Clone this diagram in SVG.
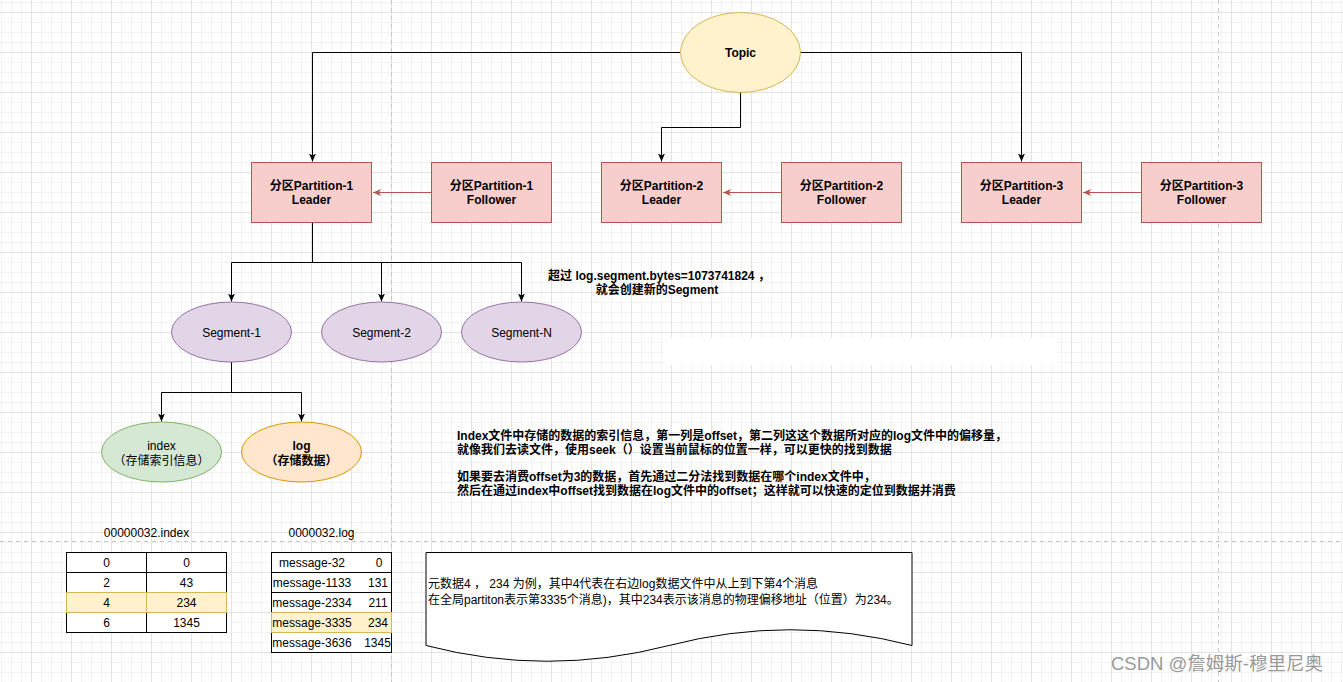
<svg xmlns="http://www.w3.org/2000/svg" width="1343" height="682" viewBox="0 0 1343 682">
<defs>
<pattern id="grid" x="31" y="12" width="40" height="40" patternUnits="userSpaceOnUse">
<path d="M10.5,0V40M20.5,0V40M30.5,0V40M0,10.5H40M0,20.5H40M0,30.5H40" stroke="#f2f2f2" stroke-width="1" fill="none"/>
<path d="M0.5,0V40M0,0.5H40" stroke="#e3e3e3" stroke-width="1" fill="none"/>
</pattern>
<marker id="ab" markerWidth="10" markerHeight="10" refX="8" refY="4" orient="auto" markerUnits="userSpaceOnUse">
<path d="M0,0.5 L8,4 L0,7.5 L2,4 Z" fill="#000"/>
</marker>
<marker id="ar" markerWidth="10" markerHeight="10" refX="8" refY="4" orient="auto" markerUnits="userSpaceOnUse">
<path d="M0,0.5 L8,4 L0,7.5 L2,4 Z" fill="#b85450"/>
</marker>
</defs>
<style>
text{font-family:"Liberation Sans","Noto Sans CJK SC",sans-serif;font-size:12px;fill:#000}
.b{font-weight:bold}
.c{text-anchor:middle}
.red{fill:#f8cecc;stroke:#b85450;stroke-width:1}
.seg{fill:#e1d5e7;stroke:#9673a6;stroke-width:1}
.conn{fill:none;stroke:#000;stroke-width:1;marker-end:url(#ab)}
.connr{fill:none;stroke:#b85450;stroke-width:1;marker-end:url(#ar)}
.cell{fill:#fff;stroke:#000;stroke-width:1}
.hl{fill:#fff2cc;stroke:#d6b656;stroke-width:1}
.pb{stroke:#c6c6c6;stroke-width:1;stroke-dasharray:4 4;fill:none}
</style>
<rect width="1343" height="682" fill="#fff"/>
<rect width="1343" height="682" fill="url(#grid)"/>
<path class="pb" d="M391.5,0V682M1218.5,0V682M0,541.5H1343"/>
<rect x="665" y="338" width="392" height="27" fill="#fff"/>

<g id="connectors">
<path class="conn" d="M680,52.5H312.5V161.5"/>
<path class="conn" d="M740.5,92V127.5H661.5V161.5"/>
<path class="conn" d="M800,52.5H1021.5V161.5"/>
<path class="connr" d="M432,192.5H373"/>
<path class="connr" d="M782,192.5H723"/>
<path class="connr" d="M1142,192.5H1083"/>
<path class="conn" d="M312.5,222V262.5H231.5V301.5"/>
<path class="conn" d="M312.5,262.5H381.5V301.5"/>
<path class="conn" d="M312.5,262.5H521.5V301.5"/>
<path class="conn" d="M231.5,362V392.5H161.5V421.5"/>
<path class="conn" d="M231.5,392.5H301.5V421.5"/>
</g>

<g id="topic">
<ellipse cx="740.5" cy="52.5" rx="60" ry="40" fill="#fff2cc" stroke="#d6b656"/>
<text class="b c" x="740.5" y="57">Topic</text>
</g>

<g id="p1-leader">
<rect class="red" x="251.5" y="162.5" width="120" height="60"/>
<text class="b c" x="311.5" y="189.5">分区Partition-1</text>
<text class="b c" x="311.5" y="204">Leader</text>
</g>
<g id="p1-follower">
<rect class="red" x="431.5" y="162.5" width="120" height="60"/>
<text class="b c" x="491.5" y="189.5">分区Partition-1</text>
<text class="b c" x="491.5" y="204">Follower</text>
</g>
<g id="p2-leader">
<rect class="red" x="601.5" y="162.5" width="120" height="60"/>
<text class="b c" x="661.5" y="189.5">分区Partition-2</text>
<text class="b c" x="661.5" y="204">Leader</text>
</g>
<g id="p2-follower">
<rect class="red" x="781.5" y="162.5" width="120" height="60"/>
<text class="b c" x="841.5" y="189.5">分区Partition-2</text>
<text class="b c" x="841.5" y="204">Follower</text>
</g>
<g id="p3-leader">
<rect class="red" x="961.5" y="162.5" width="120" height="60"/>
<text class="b c" x="1021.5" y="189.5">分区Partition-3</text>
<text class="b c" x="1021.5" y="204">Leader</text>
</g>
<g id="p3-follower">
<rect class="red" x="1141.5" y="162.5" width="120" height="60"/>
<text class="b c" x="1201.5" y="189.5">分区Partition-3</text>
<text class="b c" x="1201.5" y="204">Follower</text>
</g>

<g id="segment-note">
<text class="b c" x="659" y="280">超过 log.segment.bytes=1073741824 ，</text>
<text class="b c" x="657" y="294">就会创建新的Segment</text>
</g>

<g id="segment-1">
<ellipse class="seg" cx="231.5" cy="332" rx="60" ry="30"/>
<text class="c" x="231.5" y="336.5">Segment-1</text>
</g>
<g id="segment-2">
<ellipse class="seg" cx="381.5" cy="332" rx="60" ry="30"/>
<text class="c" x="381.5" y="336.5">Segment-2</text>
</g>
<g id="segment-n">
<ellipse class="seg" cx="521.5" cy="332" rx="60" ry="30"/>
<text class="c" x="521.5" y="336.5">Segment-N</text>
</g>

<g id="index">
<ellipse cx="161.5" cy="452" rx="60" ry="30" fill="#d5e8d4" stroke="#82b366"/>
<text class="c" x="161.5" y="450">index</text>
<text class="c" x="161.5" y="464.5">（存储索引信息）</text>
</g>
<g id="log">
<ellipse cx="301.5" cy="452" rx="60" ry="30" fill="#ffe6cc" stroke="#d79b00"/>
<text class="b c" x="301.5" y="450">log</text>
<text class="b c" x="301.5" y="464.5">（存储数据）</text>
</g>

<g id="explain">
<text class="b" x="457" y="440">Index文件中存储的数据的索引信息，第一列是offset，第二列这这个数据所对应的log文件中的偏移量，</text>
<text class="b" x="457" y="454">就像我们去读文件，使用seek（）设置当前鼠标的位置一样，可以更快的找到数据</text>
<text class="b" x="457" y="481">如果要去消费offset为3的数据，首先通过二分法找到数据在哪个index文件中，</text>
<text class="b" x="457" y="495">然后在通过index中offset找到数据在log文件中的offset；这样就可以快速的定位到数据并消费</text>
</g>

<g id="index-table">
<text class="c" x="146.5" y="537">00000032.index</text>
<rect class="cell" x="66.5" y="552.5" width="80" height="20"/>
<rect class="cell" x="146.5" y="552.5" width="80" height="20"/>
<rect class="cell" x="66.5" y="572.5" width="80" height="20"/>
<rect class="cell" x="146.5" y="572.5" width="80" height="20"/>
<rect class="cell" x="66.5" y="612.5" width="80" height="20"/>
<rect class="cell" x="146.5" y="612.5" width="80" height="20"/>
<rect class="hl" x="66.5" y="592.5" width="80" height="20"/>
<rect class="hl" x="146.5" y="592.5" width="80" height="20"/>
<text class="c" x="106.5" y="567">0</text><text class="c" x="186.5" y="567">0</text>
<text class="c" x="106.5" y="587">2</text><text class="c" x="186.5" y="587">43</text>
<text class="c" x="106.5" y="607">4</text><text class="c" x="186.5" y="607">234</text>
<text class="c" x="106.5" y="627">6</text><text class="c" x="186.5" y="627">1345</text>
</g>

<g id="log-table">
<text class="c" x="321.5" y="537">0000032.log</text>
<rect class="cell" x="271.5" y="552.5" width="120" height="20"/>
<rect class="cell" x="271.5" y="572.5" width="120" height="20"/>
<rect class="cell" x="271.5" y="592.5" width="120" height="20"/>
<rect class="cell" x="271.5" y="632.5" width="120" height="20"/>
<rect class="hl" x="271.5" y="612.5" width="120" height="20"/>
<text class="c" x="312" y="567">message-32</text><text class="c" x="379" y="567">0</text>
<text class="c" x="312" y="587">message-1133</text><text class="c" x="378" y="587">131</text>
<text class="c" x="312" y="607">message-2334</text><text class="c" x="378" y="607">211</text>
<text class="c" x="312" y="627">message-3335</text><text class="c" x="378" y="627">234</text>
<text class="c" x="312" y="647">message-3636</text><text class="c" x="377.5" y="647">1345</text>
</g>

<g id="doc-note">
<path d="M426,552.5H912V645.5Q790,614 669,645.5Q547,677 426,645.5Z" fill="#fff" stroke="#000" stroke-width="1"/>
<text x="428" y="588">元数据4 ，  234 为例，其中4代表在右边log数据文件中从上到下第4个消息</text>
<text x="428" y="604">在全局partiton表示第3335个消息)，其中234表示该消息的物理偏移地址（位置）为234。</text>
</g>

<text x="1111" y="670" style="font-size:18.5px;fill:#9a9a9a">CSDN @詹姆斯-穆里尼奥</text>
</svg>
